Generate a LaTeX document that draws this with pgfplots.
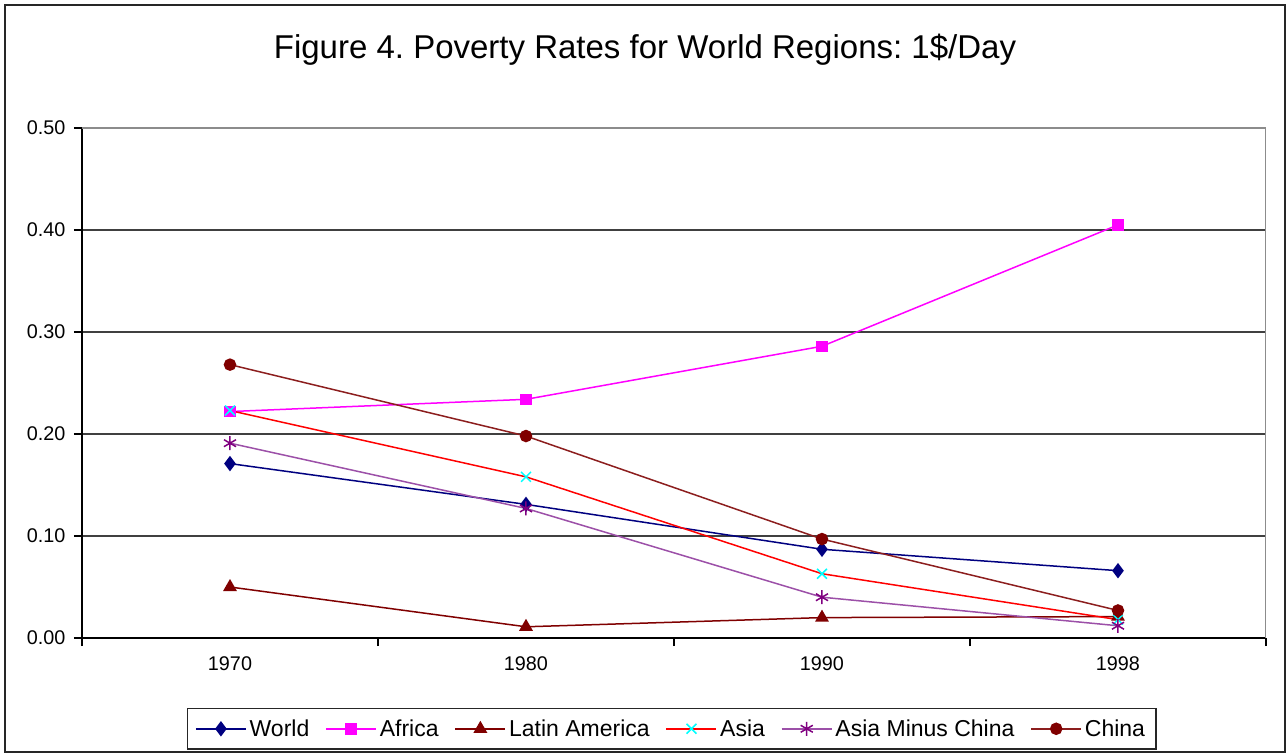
\documentclass[border=0pt]{standalone}
\usepackage{pgfplots}
\pgfplotsset{compat=1.18}
\usepackage{fontspec}
\setmainfont{Liberation Sans}
\definecolor{cWorld}{RGB}{0,0,128}
\definecolor{cAfrica}{RGB}{255,0,255}
\definecolor{cLat}{RGB}{128,0,0}
\definecolor{cAsia}{RGB}{255,0,0}
\definecolor{cAsiaM}{RGB}{0,255,255}
\definecolor{cAMC}{RGB}{156,80,168}
\definecolor{cAMCm}{RGB}{128,0,128}
\definecolor{cChina}{RGB}{140,30,30}
\definecolor{cChinaM}{RGB}{128,0,0}
\begin{document}
\frenchspacing
\begin{tikzpicture}
\useasboundingbox (-82bp,-115bp) rectangle (1204bp,638bp);
\draw[line width=1.4bp, black!85] (-77bp,-114bp) rectangle (1203bp,633bp);
\node[anchor=base, font=\fontsize{33bp}{39bp}\selectfont, inner sep=0pt] at (563bp,579bp) {Figure 4. Poverty Rates for World Regions: 1\$/Day};
\begin{axis}[
  at={(0,0)}, anchor=south west,
  width=1184bp, height=510bp, scale only axis,
  xmin=-0.5, xmax=3.5, ymin=0, ymax=0.5,
  axis lines*=left,
  axis line style={black, line width=1.3bp},
  xtick={-0.5,0.5,1.5,2.5,3.5}, xticklabels={},
  extra x ticks={0,1,2,3},
  extra x tick labels={1970,1980,1990,1998},
  extra x tick style={major tick length=0bp, tick label style={yshift=-15bp}},
  ytick={0,0.1,0.2,0.3,0.4,0.5},
  tick align=outside,
  major tick length=8bp,
  tick style={black, line width=1.3bp},
  ymajorgrids,
  grid style={black!75, line width=1.1bp},
  /pgf/number format/assume math mode=true,
  tick label style={font=\fontsize{19.8bp}{23bp}\selectfont},
  yticklabel style={xshift=-5bp, /pgf/number format/.cd, fixed, fixed zerofill, precision=2},
  legend style={at={(0.498,-0.178)}, anchor=center, legend columns=6,
    draw=black!85, line width=1.3bp, inner xsep=8bp, inner ysep=8bp,
    font=\fontsize{23bp}{27bp}\selectfont,
    nodes={inner sep=3bp},
    /tikz/every even column/.append style={column sep=13bp}},
  legend image code/.code={\draw[mark repeat=2,mark phase=2,#1] plot coordinates {(0bp,0bp) (25bp,0bp) (50bp,0bp)};},
]
\addplot[color=cWorld, line width=1.5bp, mark=diamond*, mark size=6.5bp, mark options={fill=cWorld, draw=cWorld}]
  coordinates {(0,0.171) (1,0.131) (2,0.087) (3,0.066)};
\addlegendentry{World}
\addplot[color=cAfrica, line width=1.5bp, mark=square*, mark size=5bp, mark options={fill=cAfrica, draw=cAfrica}]
  coordinates {(0,0.222) (1,0.234) (2,0.286) (3,0.405)};
\addlegendentry{Africa}
\addplot[color=cLat, line width=1.5bp, mark=triangle*, mark size=6.5bp, mark options={fill=cLat, draw=cLat}]
  coordinates {(0,0.050) (1,0.011) (2,0.020) (3,0.021)};
\addlegendentry{Latin America}
\addplot[color=cAsia, line width=1.5bp, mark=x, mark size=7bp, mark options={draw=cAsiaM, line width=1.5bp}]
  coordinates {(0,0.223) (1,0.158) (2,0.063) (3,0.018)};
\addlegendentry{Asia}
\addplot[color=cAMC, line width=1.5bp, mark=asterisk, mark size=7bp, mark options={draw=cAMCm, line width=1.5bp}]
  coordinates {(0,0.191) (1,0.127) (2,0.040) (3,0.012)};
\addlegendentry{Asia Minus China}
\addplot[color=cChina, line width=1.5bp, mark=*, mark size=5.5bp, mark options={fill=cChinaM, draw=cChinaM}]
  coordinates {(0,0.268) (1,0.198) (2,0.097) (3,0.027)};
\addlegendentry{China}
\draw[black!45, line width=1.3bp] (rel axis cs:0,1) -- (rel axis cs:1,1) -- (rel axis cs:1,0);
\end{axis}
\end{tikzpicture}
\end{document}
